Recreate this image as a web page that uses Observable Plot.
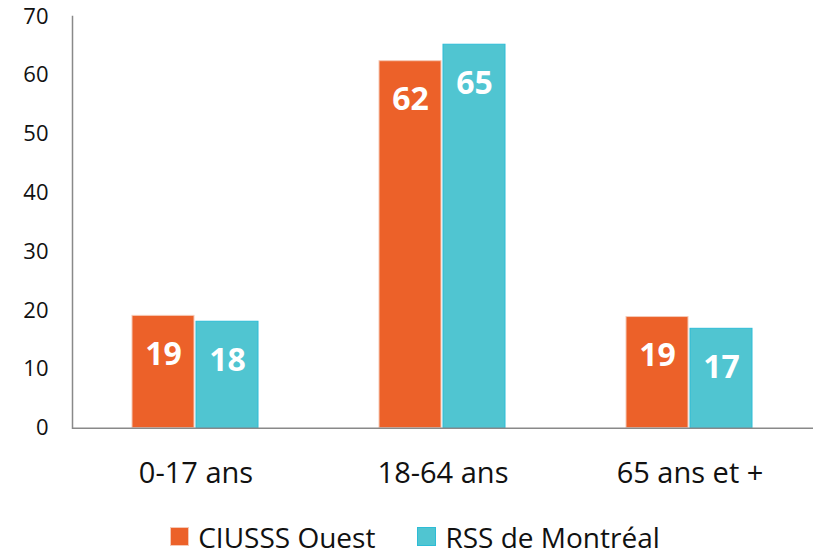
<!DOCTYPE html>
<html><head><meta charset="utf-8">
<script src="https://cdn.jsdelivr.net/npm/d3@7"></script>
<script src="https://cdn.jsdelivr.net/npm/@observablehq/plot@0.6"></script>
<style>
body{margin:0;background:#fff;font-family:"Open Sans",sans-serif;}
#legend{display:flex;justify-content:center;align-items:center;height:37px;font-size:28px;color:#111;margin-left:14px}
#legend .item{display:flex;align-items:center;margin:0 21px}
#legend .sw{width:19px;height:19px;margin-right:9px;box-sizing:border-box}
</style>
</head><body><div id="chart"></div><div id="legend"></div>
<script>
const categories = ["0-17 ans", "18-64 ans", "65 ans et +"];
const series = ["CIUSSS Ouest", "RSS de Montréal"];
const ciusssOuest = [19.1, 62.4, 18.9];
const rssMontreal = [18.1, 65.2, 16.9];
const yTicks = [0, 10, 20, 30, 40, 50, 60, 70];
const fills = ["#EC6129", "#50C5D1"];
const strokes = ["#F6C9B6", "#2DBCD6"];

const data = categories.flatMap((c, i) => [
  {category: c, series: series[0], value: ciusssOuest[i]},
  {category: c, series: series[1], value: rssMontreal[i]}
]);

const marks = [];
series.forEach((s, k) => {
  const d = data.filter(r => r.series === s);
  marks.push(Plot.barY(d, {fx: "category", x: "series", y: "value", fill: fills[k], stroke: strokes[k], strokeWidth: 1}));
  marks.push(Plot.text(d, {fx: "category", x: "series", y: "value", text: r => String(Math.round(r.value)), dy: 39, fill: "white", fontWeight: "bold", fontSize: 32, lineAnchor: "middle"}));
});
marks.push(Plot.ruleY([0], {stroke: "#898989", strokeWidth: 1.5}));
marks.push(Plot.axisY({ticks: yTicks, tickSize: 0, tickPadding: 24, fontSize: 22, label: null, fill: "#111"}));
marks.push(Plot.axisFx({anchor: "bottom", tickSize: 0, tickPadding: 34, fontSize: 29, label: null, fill: "#111"}));
marks.push(Plot.frame({anchor: "left", facet: "super", stroke: "#898989", strokeWidth: 1.5}));

const chart = Plot.plot({
  width: 816, height: 518,
  marginLeft: 72, marginRight: 3, marginTop: 16, marginBottom: 90.3,
  style: {fontFamily: "Open Sans", background: "white", color: "#111"},
  fx: {domain: categories, padding: 0, label: null},
  x: {domain: series, paddingInner: 0.025, paddingOuter: 0.92, axis: null},
  y: {domain: [0, 70], label: null},
  marks
});
document.getElementById("chart").appendChild(chart);

const lg = document.getElementById("legend");
series.forEach((s, k) => {
  const it = document.createElement("div"); it.className = "item";
  const sw = document.createElement("div"); sw.className = "sw";
  sw.style.background = fills[k]; sw.style.border = "1px solid " + strokes[k];
  const t = document.createElement("span"); t.textContent = s;
  it.appendChild(sw); it.appendChild(t); lg.appendChild(it);
});
</script>
</body></html>
